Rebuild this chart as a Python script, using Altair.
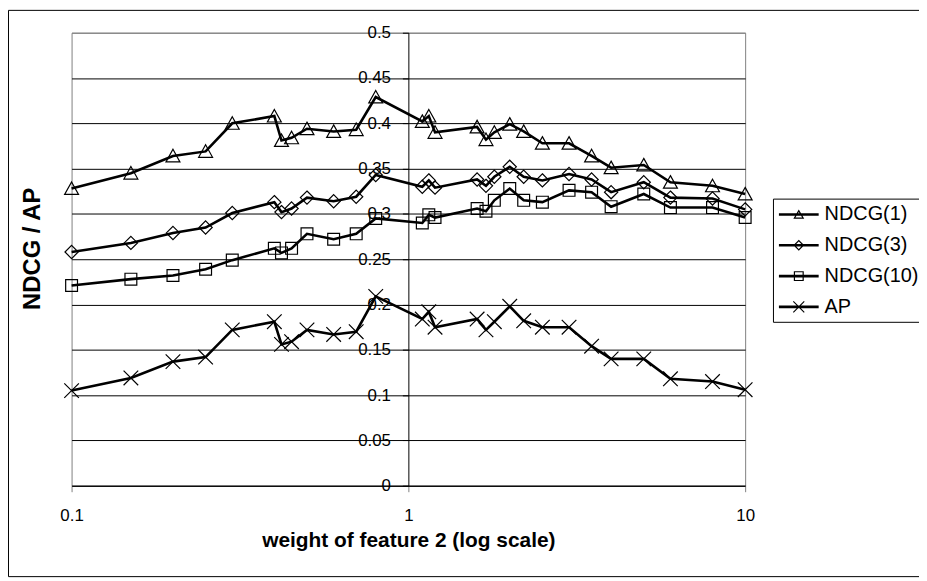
import altair as alt
import pandas as pd

# ---- data ----
x_vals = [0.1, 0.15, 0.2, 0.25, 0.3, 0.4, 0.42, 0.45, 0.5, 0.6, 0.7, 0.8,
          1.1, 1.15, 1.2, 1.6, 1.7, 1.8, 2, 2.2, 2.5, 3, 3.5, 4, 5, 6, 8, 10]
ndcg1 = [0.328, 0.345, 0.364, 0.369, 0.400, 0.408, 0.381, 0.384, 0.394, 0.391, 0.393, 0.429,
         0.402, 0.408, 0.390, 0.396, 0.382, 0.390, 0.399, 0.391, 0.378, 0.378, 0.364, 0.351,
         0.354, 0.335, 0.331, 0.322]
ndcg3 = [0.258, 0.268, 0.279, 0.285, 0.301, 0.313, 0.302, 0.306, 0.318, 0.314, 0.319, 0.343,
         0.330, 0.337, 0.329, 0.338, 0.331, 0.341, 0.352, 0.341, 0.337, 0.344, 0.338, 0.324,
         0.335, 0.318, 0.317, 0.305]
ndcg10 = [0.221, 0.228, 0.232, 0.239, 0.249, 0.262, 0.257, 0.262, 0.278, 0.272, 0.278, 0.295,
          0.290, 0.299, 0.296, 0.306, 0.303, 0.315, 0.328, 0.315, 0.313, 0.326, 0.324, 0.308,
          0.322, 0.307, 0.307, 0.296]
ap = [0.105, 0.119, 0.137, 0.142, 0.172, 0.181, 0.156, 0.159, 0.172, 0.167, 0.170, 0.209,
      0.184, 0.192, 0.175, 0.184, 0.172, 0.181, 0.198, 0.182, 0.175, 0.175, 0.154, 0.140,
      0.140, 0.118, 0.115, 0.106]

series_names = ["NDCG(1)", "NDCG(3)", "NDCG(10)", "AP"]
y_ticks = [0, 0.05, 0.1, 0.15, 0.2, 0.25, 0.3, 0.35, 0.4, 0.45, 0.5]
x_ticks = [0.1, 1, 10]

rows = []
for name, vals in zip(series_names, [ndcg1, ndcg3, ndcg10, ap]):
    for xv, yv in zip(x_vals, vals):
        rows.append({"weight": xv, "value": yv, "series": name})
df = pd.DataFrame(rows)

# ---- marker shapes ----
plot_paths = [
    "M0,-0.95L1,0.85L-1,0.85Z",
    "M0,-0.95L0.95,0L0,0.95L-0.95,0Z",
    "M-0.85,-0.85H0.85V0.85H-0.85Z",
    "M-1.05,-1.05L1.05,1.05M-1.05,1.05L1.05,-1.05",
]
LINE = "M-2,-0.13V0.13H2V-0.13Z"
legend_paths = [
    LINE + "M0,-0.5L-0.55,0.42L0.55,0.42Z" + "M0,-0.266L0.338,0.3L-0.338,0.3Z",
    LINE + "M0,-0.55L-0.55,0L0,0.55L0.55,0Z" + "M0,-0.38L0.38,0L0,0.38L-0.38,0Z",
    LINE + "M-0.5,-0.5V0.5H0.5V-0.5Z" + "M-0.38,-0.38H0.38V0.38H-0.38Z",
    LINE + "M-0.59,-0.51L0.51,0.59L0.59,0.51L-0.51,-0.59Z" + "M-0.59,0.51L-0.51,0.59L0.59,-0.51L0.51,-0.59Z",
]

PLOT_W, PLOT_H = 678, 456
PAD_L, PAD_T, PAD_R, PAD_B = 64, 23, 175, 92
FONT = "Liberation Sans"

x_enc = alt.X(
    "weight:Q",
    scale=alt.Scale(type="log", domain=[0.1, 10], nice=False),
    axis=alt.Axis(
        values=x_ticks, format="~g", grid=False, labelFlush=False,
        title="weight of feature 2 (log scale)",
        titleFont=FONT, titleFontSize=21, titleFontWeight="bold", titleColor="black",
        titleY=61, titleBaseline="alphabetic",
        labelFont=FONT, labelFontSize=17, labelColor="black",
        labelBaseline="alphabetic", labelPadding=29,
        tickSize=6, tickColor="#808080", domainColor="black",
    ),
)
y_enc = alt.Y(
    "value:Q",
    scale=alt.Scale(domain=[0, 0.5], nice=False),
    axis=alt.Axis(
        values=y_ticks, format="~g", offset=-339, labelFlush=False,
        title="NDCG / AP",
        titleFont=FONT, titleFontSize=24, titleFontWeight="bold", titleColor="black",
        titleX=-378, titleY=217, titleAngle=270, titleAlign="center", titleBaseline="middle",
        labelFont=FONT, labelFontSize=17, labelColor="black", labelPadding=12,
        tickSize=6, tickColor="black", domainColor="black",
        grid=True, gridWidth=1,
        gridColor={"condition": {"test": "datum.value > 0.49", "value": "#808080"}, "value": "black"},
    ),
)

base = alt.Chart(df).encode(x=x_enc, y=y_enc)

lines = base.mark_line(color="black", strokeWidth=2.6).encode(detail="series:N")

points = base.mark_point(filled=False, color="black", strokeWidth=1.2, size=196, opacity=1).encode(
    shape=alt.Shape("series:N", scale=alt.Scale(domain=series_names, range=plot_paths), legend=None)
)

legend_layer = base.transform_filter("datum.value < 0").mark_point(
    filled=True, color="black", size=400, opacity=1, strokeWidth=0
).encode(
    shape=alt.Shape(
        "series:N",
        scale=alt.Scale(domain=series_names, range=legend_paths),
        legend=alt.Legend(
            title=None, orient="none", legendX=706, legendY=167,
            padding=5, strokeColor="black", fillColor="white",
            symbolSize=400, rowPadding=10, symbolOffset=10, labelOffset=15,
            labelFont=FONT, labelFontSize=20, labelColor="black", labelLimit=300,
        ),
    )
)

border = alt.Chart(pd.DataFrame({"k": [0]})).mark_rect(
    filled=False, color="black", strokeWidth=1
).encode(
    x=alt.value(-PAD_L + 0.5), x2=alt.value(PLOT_W + PAD_R + 10),
    y=alt.value(-PAD_T + 0.5), y2=alt.value(PLOT_H + PAD_B - 0.5),
)

chart = alt.layer(border, lines, points, legend_layer).resolve_scale(shape="independent").properties(
    width=PLOT_W, height=PLOT_H,
    autosize=alt.AutoSizeParams(type="none"),
    padding={"left": PAD_L, "top": PAD_T, "right": PAD_R, "bottom": PAD_B},
    background="white",
).configure_view(stroke="#808080", strokeWidth=1)

chart.save("out.html", embed_options={"renderer": "svg", "actions": False})
